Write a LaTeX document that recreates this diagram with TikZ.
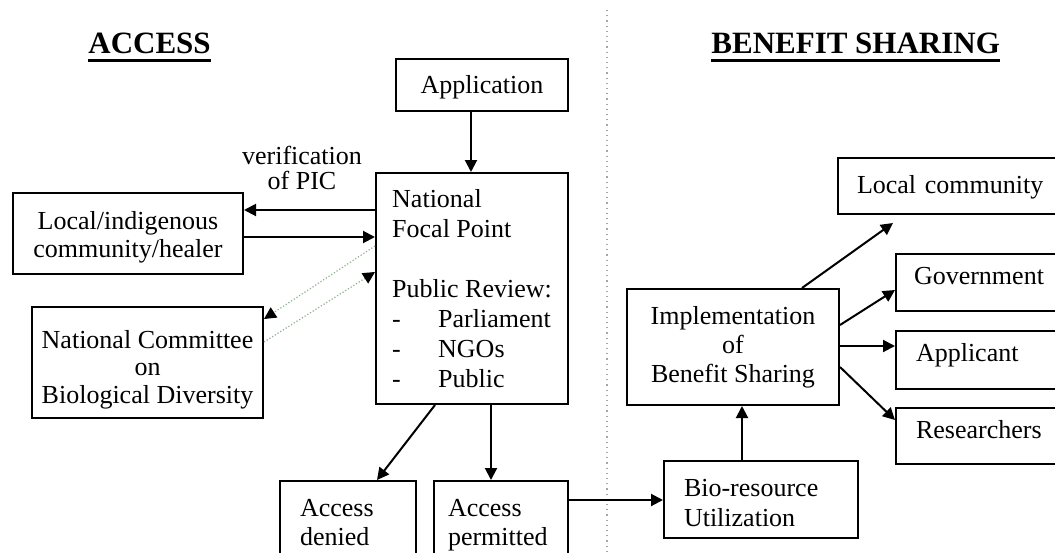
\documentclass[tikz,border=0pt]{standalone}
\usepackage{fontspec}
\setmainfont{Liberation Serif}
\usetikzlibrary{arrows.meta}
\newcommand{\upstrut}[1]{\rule{0pt}{#1}}
\begin{document}
\begin{tikzpicture}[x=0.5pt,y=-0.5pt,
  box/.style={draw,line width=1pt,rectangle,inner sep=0pt,anchor=north west,
    font=\fontsize{13}{14.5}\selectfont},
  lbox/.style={box,align=left,inner xsep=#1},
  arr/.style={line width=1pt,-{Triangle[length=6pt,width=6pt]}},
  darr/.style={line width=0.6pt,densely dotted,draw={rgb,255:red,140;green,175;blue,140},
    -{Triangle[length=6pt,width=6pt,color=black]}},
  ttl/.style={font=\bfseries\fontsize{15.5}{18}\selectfont,inner sep=0pt,anchor=base west},
  plain/.style={inner sep=0pt,font=\fontsize{13}{12.5}\selectfont,align=center}]
\useasboundingbox (0,0) rectangle (1055,552);
\clip (0,0) rectangle (1055,552);
\fill[white] (0,0) rectangle (1055,552);

% titles
\node[ttl] (tA) at (88,53) {ACCESS};
\node[ttl] (tB) at (711,53) {BENEFIT SHARING};
\draw[line width=1.5pt] ([yshift=-3.5pt]tA.base west) -- ([yshift=-3.5pt]tA.base east);
\draw[line width=1.5pt] ([yshift=-3.5pt]tB.base west) -- ([yshift=-3.5pt]tB.base east);

% divider
\coordinate (dtop) at (607,10);
\coordinate (dbot) at (607,552);
\draw[gray!70,dotted,line width=0.6pt] (dtop) -- (dbot);

% boxes
\node[box,minimum width=86pt,minimum height=26pt,text height=8pt,text depth=0pt] (app) at (395,58) {Application};
\node[box,align=left,minimum width=96pt,minimum height=115.5pt,
  font=\fontsize{13}{15}\selectfont] (nfp) at (375,172)
  {National\\Focal Point\\[15pt]Public Review:\\\makebox[23pt][l]{-}Parliament\\\makebox[23pt][l]{-}NGOs\\\makebox[23pt][l]{-}Public};
\node[box,align=center,minimum width=115pt,minimum height=40.5pt,font=\fontsize{13}{14}\selectfont] (loc) at (12,192)
  {\upstrut{13pt}Local/indigenous\\community/healer};
\node[box,align=center,minimum width=115.5pt,minimum height=55.5pt,font=\fontsize{13}{13.7}\selectfont] (ncbd) at (31,306)
  {\upstrut{16pt}National Committee\\on\\Biological Diversity};
\node[lbox=10pt,minimum width=68pt,minimum height=42pt,text width=48pt] (den) at (279,480) {Access\\denied};
\node[lbox=7pt,minimum width=67pt,minimum height=42pt,text width=53pt] (per) at (433,480) {\upstrut{11pt}Access\\permitted};
\node[lbox=10pt,minimum width=97pt,minimum height=38.5pt,text width=77pt,font=\fontsize{13}{15}\selectfont] (bio) at (663,460) {\upstrut{12pt}Bio-resource\\Utilization};
\node[box,align=center,minimum width=106pt,minimum height=58pt] (imp) at (626,288)
  {Implementation\\of\\Benefit Sharing};
\node[lbox=9.5pt,minimum width=115pt,minimum height=28pt,text width=96pt,text height=7pt,text depth=0pt] (lc) at (837,157) {Local community};
\node[lbox=9pt,minimum width=90pt,minimum height=28.5pt,text width=72pt,text height=1.5pt,text depth=0pt] (gov) at (895,253) {Government};
\node[lbox=10pt,minimum width=90pt,minimum height=29pt,text width=70pt,text height=1pt,text depth=0pt] (apl) at (895,330) {Applicant};
\node[lbox=10pt,minimum width=90pt,minimum height=28pt,text width=70pt,text height=2pt,text depth=0pt] (res) at (895,407) {Researchers};

% verification label
\node[plain] (ver) at (302,168) {verification\\of PIC};

% helper coordinates
\coordinate (x471) at (471,0);
\coordinate (x435) at (435,0);
\coordinate (x377) at (377,0);
\coordinate (x491) at (491,0);
\coordinate (x742) at (742,0);
\coordinate (x802) at (802,0);
\coordinate (y210) at (0,210);
\coordinate (y237) at (0,237);
\coordinate (y246) at (0,246);
\coordinate (y319) at (0,319);
\coordinate (y342) at (0,342);
\coordinate (y272) at (0,272);
\coordinate (y500) at (0,500);
\coordinate (y325) at (0,325);
\coordinate (y290) at (0,290);
\coordinate (y346) at (0,346);
\coordinate (y367) at (0,367);
\coordinate (y420) at (0,420);
\coordinate (lcend) at (893,223);

% connectors
\draw[arr] (app.south -| x471) -- (nfp.north -| x471);
\draw[arr] (nfp.west |- y210) -- (loc.east |- y210);
\draw[arr] (loc.east |- y237) -- (nfp.west |- y237);
\draw[darr] (nfp.west |- y246) -- (ncbd.east |- y319);
\draw[darr] (ncbd.east |- y342) -- (nfp.west |- y272);
\draw[arr] (nfp.south -| x435) -- (den.north -| x377);
\draw[arr] (nfp.south -| x491) -- (per.north -| x491);
\draw[arr] (per.east |- y500) -- (bio.west |- y500);
\draw[arr] (bio.north -| x742) -- (imp.south -| x742);
\draw[arr] (imp.north -| x802) -- (lcend);
\draw[arr] (imp.east |- y325) -- (gov.west |- y290);
\draw[arr] (imp.east |- y346) -- (apl.west |- y346);
\draw[arr] (imp.east |- y367) -- (res.west |- y420);
\end{tikzpicture}
\end{document}
